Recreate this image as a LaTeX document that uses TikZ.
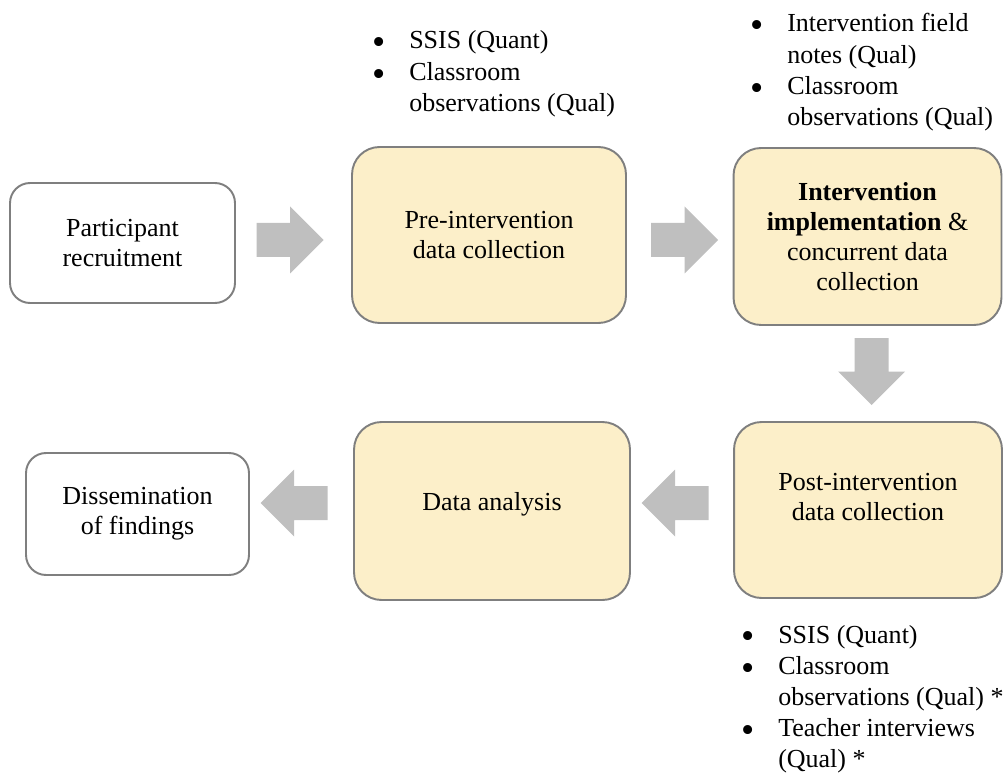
\documentclass[tikz,border=0pt]{standalone}
\usepackage{fontspec}
\setmainfont{Liberation Serif}
\definecolor{boxline}{HTML}{7F7F7F}
\definecolor{boxfill}{HTML}{FCEFC9}
\definecolor{arrowfill}{HTML}{BFBFBF}
\newcommand{\bitem}{\makebox[21pt][l]{\smash{\raisebox{-3.4pt}{\scalebox{1.45}{\textbullet}}}}}
\begin{document}
\begin{tikzpicture}[x=0.02cm,y=-0.02cm,
	stage/.style={draw=boxline,line width=1.1pt,rounded corners=0.55cm,align=center,
		font=\fontsize{14.8}{17}\selectfont,inner sep=0pt},
	endstage/.style={stage,fill=white,rounded corners=0.4cm},
	datastage/.style={stage,fill=boxfill},
	blockarrow/.pic={\fill[arrowfill] (-33.5,-17) -- (0,-17) -- (0,-33.5) -- (33.5,0)
		-- (0,33.5) -- (0,17) -- (-33.5,17) -- cycle;},
	notes/.style={anchor=base west,inner sep=0pt,font=\fontsize{14.8}{17.7}\selectfont}]
\useasboundingbox (0,0) rectangle (1003,773);
% stages
\node[endstage,minimum width=4.5cm,minimum height=2.4cm] (rec) at (122.5,243) {Participant\\recruitment};
\node[datastage,minimum width=5.48cm,minimum height=3.52cm] (pre) at (489,235) {Pre-intervention\\data collection};
\node[datastage,minimum width=5.36cm,minimum height=3.54cm] (impl) at (867.5,236.5)
	{\textbf{Intervention}\\\textbf{implementation} \&\\concurrent data\\collection};
\node[datastage,minimum width=5.36cm,minimum height=3.52cm,text depth=15pt] (post) at (868,510) {Post-intervention\\data collection};
\node[datastage,minimum width=5.52cm,minimum height=3.56cm,text depth=11pt] (ana) at (492,511) {Data analysis};
\node[endstage,minimum width=4.46cm,minimum height=2.44cm] (dis) at (137.5,514) {Dissemination\\of findings};
% arrows
\pic (a1) at (290,240) {blockarrow};
\pic (a2) at (684.5,240) {blockarrow};
\pic[rotate=270] (a3) at (871.5,371.5) {blockarrow};
\pic[rotate=180] (a4) at (675,503) {blockarrow};
\pic[rotate=180] (a5) at (294,503) {blockarrow};
% data sources
\node[notes] (prenotes) at (372,49) {\begin{tabular}[t]{@{}l@{}l@{}}
	\bitem & SSIS (Quant)\\
	\bitem & Classroom\\
	& observations (Qual)\end{tabular}};
\node[notes] (implnotes) at (750,32) {\begin{tabular}[t]{@{}l@{}l@{}}
	\bitem & Intervention field\\
	& notes (Qual)\\
	\bitem & Classroom\\
	& observations (Qual)\end{tabular}};
\node[notes] (postnotes) at (741,643) {\begin{tabular}[t]{@{}l@{}l@{}}
	\bitem & SSIS (Quant)\\
	\bitem & Classroom\\
	& observations (Qual) *\\
	\bitem & Teacher interviews\\
	& (Qual) *\end{tabular}};
\end{tikzpicture}
\end{document}
